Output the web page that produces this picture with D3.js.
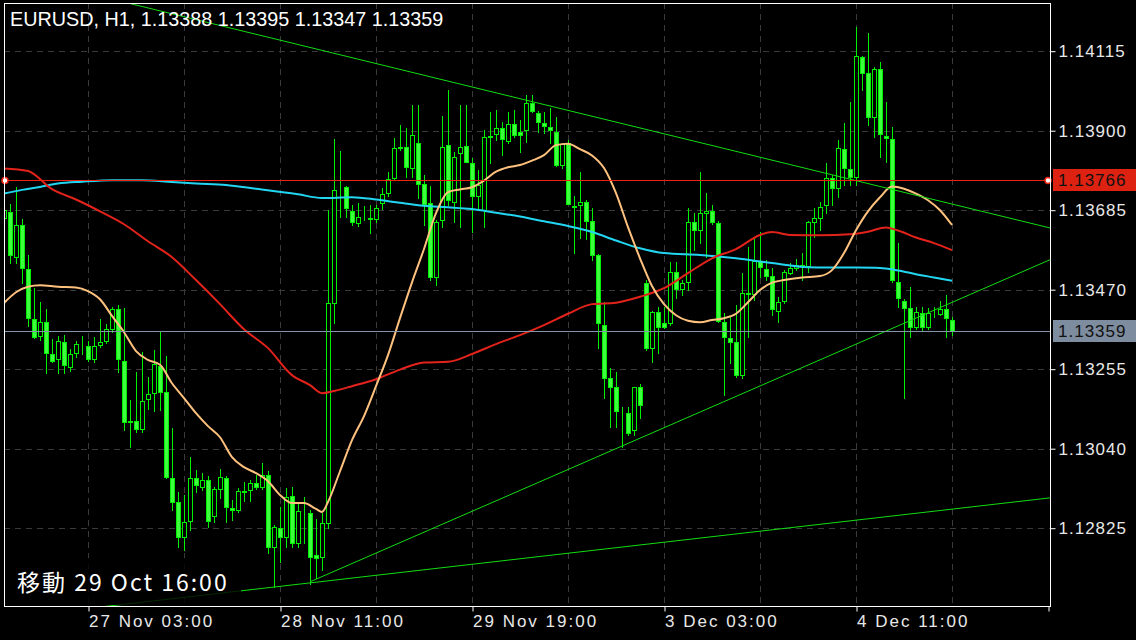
<!DOCTYPE html>
<html><head><meta charset="utf-8">
<script src="https://cdn.jsdelivr.net/npm/d3@7"></script>
<style>body{margin:0;background:#000;}svg{display:block}</style>
</head><body><svg id="c" width="1136" height="640"></svg>
<script>
const symbol = "EURUSD", period = "H1";
const opens = [1.13663,1.13680,1.13558,1.13645,1.13526,1.13390,1.13345,1.13382,1.13296,1.13282,1.13328,1.13261,1.13299,1.13323,1.13317,1.13282,1.13320,1.13331,1.13363,1.13417,1.13277,1.13112,1.13115,1.13093,1.13174,1.13190,1.13263,1.13193,1.12961,1.12896,1.12801,1.12844,1.12961,1.12936,1.12955,1.12858,1.12931,1.12961,1.12879,1.12874,1.12925,1.12928,1.12947,1.12936,1.12969,1.12774,1.12825,1.12801,1.12912,1.12785,1.12869,1.12866,1.12752,1.12747,1.12839,1.13434,1.13742,1.13747,1.13682,1.13650,1.13672,1.13663,1.13661,1.13704,1.13731,1.13772,1.13855,1.13855,1.13799,1.13866,1.13756,1.13704,1.13504,1.13658,1.13861,1.13707,1.13839,1.13858,1.13812,1.13723,1.13685,1.13885,1.13891,1.13907,1.13872,1.13918,1.13896,1.13902,1.13975,1.13947,1.13920,1.13910,1.13896,1.13807,1.13866,1.13696,1.13699,1.13707,1.13655,1.13564,1.13374,1.13231,1.13207,1.13139,1.13136,1.13090,1.13207,1.13488,1.13312,1.13409,1.13380,1.13380,1.13518,1.13472,1.13490,1.13653,1.13631,1.13677,1.13682,1.13650,1.13382,1.13339,1.13328,1.13239,1.13458,1.13458,1.13547,1.13526,1.13507,1.13412,1.13439,1.13515,1.13528,1.13536,1.13534,1.13653,1.13663,1.13699,1.13772,1.13745,1.13850,1.13796,1.13774,1.14099,1.14056,1.13937,1.14066,1.13885,1.13877,1.13490,1.13439,1.13420,1.13369,1.13407,1.13369,1.13407,1.13404,1.13417,1.13388];
const highs = [1.13726,1.13701,1.13747,1.13661,1.13564,1.13474,1.13436,1.13417,1.13336,1.13345,1.13347,1.13309,1.13331,1.13345,1.13331,1.13342,1.13390,1.13377,1.13423,1.13428,1.13420,1.13171,1.13247,1.13301,1.13234,1.13307,1.13355,1.13290,1.13096,1.12923,1.12915,1.13017,1.12982,1.12974,1.12966,1.12936,1.12985,1.12966,1.12901,1.12933,1.12950,1.12955,1.12969,1.13001,1.12979,1.12833,1.12882,1.12933,1.12936,1.12893,1.12909,1.12874,1.12850,1.12866,1.13685,1.13877,1.13845,1.13750,1.13699,1.13704,1.13696,1.13699,1.13699,1.13745,1.13788,1.13880,1.13915,1.13907,1.13969,1.13969,1.13780,1.13750,1.13658,1.13939,1.14010,1.13842,1.13969,1.13969,1.13826,1.13793,1.13902,1.13950,1.13956,1.13923,1.13950,1.13956,1.13929,1.13996,1.13996,1.13953,1.13950,1.13961,1.13937,1.13866,1.13874,1.13723,1.13788,1.13712,1.13691,1.13566,1.13436,1.13258,1.13247,1.13152,1.13152,1.13207,1.13215,1.13496,1.13412,1.13423,1.13423,1.13545,1.13545,1.13496,1.13691,1.13677,1.13788,1.13731,1.13699,1.13655,1.13407,1.13396,1.13428,1.13515,1.13585,1.13612,1.13626,1.13550,1.13528,1.13450,1.13523,1.13542,1.13553,1.13569,1.13655,1.13691,1.13707,1.13812,1.13780,1.13874,1.13920,1.13977,1.14180,1.14102,1.14164,1.14072,1.14085,1.13977,1.13910,1.13596,1.13444,1.13477,1.13423,1.13423,1.13420,1.13423,1.13439,1.13455,1.13395];
const lows = [1.13645,1.13542,1.13542,1.13488,1.13372,1.13339,1.13334,1.13244,1.13274,1.13244,1.13244,1.13250,1.13288,1.13296,1.13277,1.13274,1.13315,1.13325,1.13355,1.13247,1.13090,1.13044,1.13085,1.13085,1.13147,1.13142,1.13144,1.12961,1.12874,1.12774,1.12766,1.12820,1.12923,1.12928,1.12828,1.12842,1.12906,1.12842,1.12847,1.12869,1.12898,1.12898,1.12931,1.12931,1.12758,1.12666,1.12733,1.12774,1.12774,1.12774,1.12785,1.12674,1.12690,1.12712,1.12825,1.13380,1.13666,1.13666,1.13645,1.13642,1.13658,1.13623,1.13653,1.13688,1.13723,1.13766,1.13847,1.13774,1.13774,1.13718,1.13645,1.13496,1.13482,1.13639,1.13699,1.13653,1.13639,1.13815,1.13626,1.13685,1.13639,1.13812,1.13874,1.13834,1.13866,1.13883,1.13842,1.13869,1.13950,1.13896,1.13893,1.13866,1.13804,1.13799,1.13701,1.13569,1.13609,1.13607,1.13550,1.13312,1.13177,1.13098,1.13098,1.13044,1.13077,1.13077,1.13123,1.13307,1.13274,1.13299,1.13366,1.13374,1.13447,1.13455,1.13469,1.13577,1.13596,1.13558,1.13647,1.13382,1.13185,1.13271,1.13234,1.13231,1.13342,1.13442,1.13504,1.13496,1.13401,1.13382,1.13434,1.13512,1.13523,1.13496,1.13518,1.13612,1.13631,1.13677,1.13699,1.13720,1.13753,1.13753,1.13753,1.14010,1.13915,1.13883,1.13829,1.13815,1.13490,1.13423,1.13177,1.13342,1.13363,1.13361,1.13363,1.13396,1.13401,1.13342,1.13347];
const closes = [1.13685,1.13564,1.13645,1.13528,1.13393,1.13342,1.13382,1.13299,1.13277,1.13331,1.13266,1.13296,1.13323,1.13322,1.13282,1.13317,1.13328,1.13363,1.13417,1.13282,1.13112,1.13115,1.13093,1.13169,1.13188,1.13269,1.13193,1.12963,1.12896,1.12801,1.12842,1.12961,1.12942,1.12955,1.12844,1.12931,1.12963,1.12882,1.12874,1.12925,1.12924,1.12947,1.12936,1.12969,1.12774,1.12828,1.12801,1.12909,1.12785,1.12871,1.12868,1.12747,1.12744,1.12839,1.13434,1.13739,1.13741,1.13691,1.13653,1.13666,1.13671,1.13662,1.13691,1.13728,1.13769,1.13853,1.13852,1.13801,1.13888,1.13756,1.13701,1.13504,1.13653,1.13855,1.13712,1.13829,1.13855,1.13815,1.13723,1.13753,1.13883,1.13884,1.13907,1.13877,1.13918,1.13888,1.13888,1.13975,1.13953,1.13923,1.13912,1.13902,1.13807,1.13864,1.13701,1.13695,1.13707,1.13655,1.13564,1.13380,1.13231,1.13207,1.13142,1.13138,1.13082,1.13207,1.13158,1.13312,1.13409,1.13369,1.13369,1.13518,1.13472,1.13488,1.13653,1.13631,1.13677,1.13682,1.13653,1.13385,1.13342,1.13328,1.13239,1.13461,1.13460,1.13547,1.13531,1.13507,1.13417,1.13436,1.13518,1.13528,1.13536,1.13534,1.13653,1.13663,1.13693,1.13772,1.13745,1.13853,1.13799,1.13774,1.14102,1.14056,1.13937,1.14066,1.13891,1.13880,1.13496,1.13447,1.13420,1.13369,1.13409,1.13369,1.13407,1.13406,1.13417,1.13393,1.13359];

const fastMaBars = [0,2,4,6,9,12,14,16,18,20,22,24,26,28,30,32,34,36,38,40,42,44,46,48,50,52,53,54,56,58,60,62,64,66,68,70,72,74,76,78,80,82,84,86,88,90,92,94,96,98,100,102,104,106,108,110,112,114,116,118,120,122,124,126,128,130,133,136,138,140,142,144,146,148,150,152,154,156,158];
const fastMa = [1.13434,1.13463,1.13478,1.13482,1.13478,1.13476,1.13466,1.13444,1.13399,1.13355,1.13304,1.13280,1.13267,1.13217,1.13177,1.13136,1.13101,1.13071,1.13017,1.12990,1.12974,1.12952,1.12915,1.12893,1.12893,1.12877,1.12869,1.12896,1.12979,1.13063,1.13128,1.13209,1.13293,1.13393,1.13490,1.13580,1.13677,1.13734,1.13741,1.13747,1.13765,1.13789,1.13801,1.13807,1.13819,1.13834,1.13861,1.13865,1.13850,1.13833,1.13799,1.13731,1.13639,1.13555,1.13480,1.13431,1.13401,1.13386,1.13382,1.13388,1.13393,1.13405,1.13436,1.13469,1.13489,1.13496,1.13503,1.13507,1.13523,1.13569,1.13631,1.13682,1.13720,1.13749,1.13743,1.13730,1.13712,1.13685,1.13645];
const midMaBars = [0,4,8,12,16,20,24,28,32,36,40,44,48,51,53,55,58,62,66,70,74,78,82,86,90,94,98,102,106,110,114,118,122,126,128,131,136,141,144,147,149,152,155,158];
const midMa = [1.13798,1.13791,1.13742,1.13714,1.13682,1.13647,1.13601,1.13558,1.13496,1.13431,1.13363,1.13312,1.13239,1.13212,1.13190,1.13196,1.13209,1.13228,1.13254,1.13273,1.13275,1.13296,1.13323,1.13347,1.13374,1.13405,1.13431,1.13435,1.13451,1.13474,1.13515,1.13555,1.13580,1.13618,1.13626,1.13618,1.13617,1.13620,1.13627,1.13638,1.13630,1.13611,1.13596,1.13577];
const slowMaBars = [0,3,6,9,13,18,23,28,32,37,42,49,53,58,62,66,70,74,78,82,86,90,94,98,102,106,110,116,122,128,134,140,146,149,152,155,158];
const slowMa = [1.13730,1.13740,1.13748,1.13757,1.13762,1.13766,1.13766,1.13761,1.13757,1.13753,1.13743,1.13728,1.13718,1.13720,1.13714,1.13705,1.13697,1.13693,1.13688,1.13678,1.13668,1.13655,1.13642,1.13626,1.13603,1.13582,1.13569,1.13564,1.13555,1.13542,1.13531,1.13530,1.13529,1.13522,1.13512,1.13503,1.13494];

const trendTop = [[0, 1.14327], [174.33, 1.13637]];
const trendMid = [[51, 1.12680], [174.33, 1.13551]];
const trendLow = [[0, 1.12582], [174.33, 1.12907]];
const alertPrice = 1.13766;
const bidPrice = 1.13359;

const yTicks = [1.12825, 1.13040, 1.13255, 1.13470, 1.13685, 1.13900, 1.14115];
const xTickBars = [14, 46, 78, 110, 142, 174];
const xTickLabels = ["27 Nov 03:00", "28 Nov 11:00", "29 Nov 19:00", "3 Dec 03:00", "4 Dec 11:00", ""];
const gridBars = [14, 30, 46, 62, 78, 94, 110, 126, 142, 158];
const noteText = "移動 29 Oct 16:00";

const W = 1136, H = 640;
const P = {left: 4, right: 1051, top: 3, bottom: 607};
const x = d3.scaleLinear().domain([0, 158]).range([4, 952]);
const y = d3.scaleLinear().domain([1.12825, 1.14115]).range([528.2, 51.2]);

const svg = d3.select("#c");
svg.append("rect").attr("width", W).attr("height", H).attr("fill", "#000");
svg.append("defs").append("clipPath").attr("id", "clip")
  .append("rect").attr("x", P.left + 0.5).attr("y", P.top + 0.5)
  .attr("width", P.right - P.left - 1).attr("height", P.bottom - P.top - 1);

const grid = svg.append("g").attr("stroke", "#3a3a3a").attr("stroke-dasharray", "6,5").attr("stroke-width", 1);
grid.selectAll("line.h").data(yTicks).join("line").attr("class", "h")
  .attr("x1", P.left).attr("x2", P.right)
  .attr("y1", d => Math.round(y(d)) + 0.5).attr("y2", d => Math.round(y(d)) + 0.5);
grid.selectAll("line.v").data(gridBars).join("line").attr("class", "v")
  .attr("x1", d => x(d) + 0.5).attr("x2", d => x(d) + 0.5)
  .attr("y1", P.top).attr("y2", P.bottom);

const plot = svg.append("g").attr("clip-path", "url(#clip)");

// candles
const bars = opens.map((o, i) => ({i, o, h: highs[i], l: lows[i], c: closes[i]}));
const cg = plot.append("g");
cg.selectAll("line.wick").data(bars).join("line").attr("class", "wick")
  .attr("x1", d => Math.round(x(d.i)) + 0.5).attr("x2", d => Math.round(x(d.i)) + 0.5)
  .attr("y1", d => Math.round(y(d.h))).attr("y2", d => Math.round(y(d.l)) + 1)
  .attr("stroke", "#00ee00").attr("stroke-width", 1);
cg.selectAll("rect.body").data(bars).join("rect").attr("class", "body")
  .attr("x", d => Math.round(x(d.i)) - 2 + 0.5)
  .attr("y", d => Math.round(y(Math.max(d.o, d.c))) + 0.5)
  .attr("width", 4)
  .attr("height", d => Math.max(0, Math.round(y(Math.min(d.o, d.c))) - Math.round(y(Math.max(d.o, d.c)))))
  .attr("fill", d => d.c < d.o ? "#3dff3d" : "#000")
  .attr("stroke", "#00ee00").attr("stroke-width", 1);

// moving averages
const line = d3.line().x(d => x(d[0])).y(d => y(d[1])).curve(d3.curveMonotoneX);
const ma = (bs, vs, color) => plot.append("path")
  .attr("d", line(bs.map((b, k) => [b, vs[k]])))
  .attr("fill", "none").attr("stroke", color).attr("stroke-width", 2);
ma(slowMaBars, slowMa, "#22d6f2");
ma(midMaBars, midMa, "#e3231b");
ma(fastMaBars, fastMa, "#ffc27e");

// trend lines
const tl = d3.line().x(d => x(d[0])).y(d => y(d[1]));
[trendTop, trendMid, trendLow].forEach(t => plot.append("path").attr("d", tl(t))
  .attr("fill", "none").attr("stroke", "#11dd11").attr("stroke-width", 1));

// horizontal lines
plot.append("line").attr("x1", P.left).attr("x2", P.right)
  .attr("y1", Math.round(y(bidPrice)) + 0.5).attr("y2", Math.round(y(bidPrice)) + 0.5)
  .attr("stroke", "#8494a8").attr("stroke-width", 1);
plot.append("line").attr("x1", P.left).attr("x2", P.right)
  .attr("y1", Math.round(y(alertPrice)) + 0.5).attr("y2", Math.round(y(alertPrice)) + 0.5)
  .attr("stroke", "#ee2211").attr("stroke-width", 1.2);
[P.left + 1, P.right - 3].forEach(cx => svg.append("circle").attr("cx", cx).attr("cy", Math.round(y(alertPrice)) + 0.5)
  .attr("r", 3).attr("fill", "#fff").attr("stroke", "#ee2211").attr("stroke-width", 1.5));

// note box
svg.append("rect").attr("x", P.left + 1).attr("y", 558).attr("width", 236).attr("height", 47)
  .attr("fill", "#000").attr("fill-opacity", 0.82);
svg.append("text").attr("x", 17).attr("y", 591)
  .attr("font-family", "'Noto Sans CJK JP', 'Noto Sans', sans-serif").attr("font-size", 23)
  .attr("letter-spacing", "2px").attr("fill", "#fff").text(noteText);

// title
svg.append("text").attr("x", 10).attr("y", 26)
  .attr("font-family", "'Liberation Sans', Arial, sans-serif").attr("font-size", 19.8).attr("fill", "#fff")
  .text(`${symbol}, ${period}, ${opens[158].toFixed(5)} ${highs[158].toFixed(5)} ${lows[158].toFixed(5)} ${closes[158].toFixed(5)}`);

// border
svg.append("rect").attr("x", P.left + 0.5).attr("y", P.top + 0.5)
  .attr("width", P.right - P.left - 1).attr("height", P.bottom - P.top - 1)
  .attr("fill", "none").attr("stroke", "#fff").attr("stroke-width", 1);

// y axis
const yAxis = svg.append("g").attr("transform", `translate(${P.right - 0.5},0)`)
  .call(d3.axisRight(y).tickValues(yTicks).tickFormat(d3.format(".5f")).tickSize(5).tickPadding(3));
yAxis.select(".domain").remove();
yAxis.selectAll(".tick line").attr("stroke", "#fff");
yAxis.selectAll(".tick text").attr("fill", "#e8e8e8").attr("font-size", 17)
  .attr("font-family", "'Liberation Sans', Arial, sans-serif").attr("letter-spacing", "1px");

// price tags
const tag = (price, bg) => {
  const yy = Math.round(y(price));
  svg.append("rect").attr("x", P.right + 2).attr("y", yy - 11).attr("width", W - P.right - 2).attr("height", 22).attr("fill", bg);
  svg.append("text").attr("x", P.right + 7).attr("y", yy).attr("dy", "0.35em")
    .attr("font-family", "'Liberation Sans', Arial, sans-serif").attr("font-size", 17)
    .attr("letter-spacing", "1px").attr("fill", "#111").text(price.toFixed(5));
};
tag(alertPrice, "#dd2211");
tag(bidPrice, "#7d8c9e");

// x axis
const xAxis = svg.append("g").attr("transform", `translate(0.5,${P.bottom - 0.5})`)
  .call(d3.axisBottom(x).tickValues(xTickBars).tickFormat((d, i) => xTickLabels[i]).tickSize(5).tickPadding(3));
xAxis.select(".domain").remove();
xAxis.selectAll(".tick line").attr("stroke", "#fff");
xAxis.selectAll(".tick text").attr("fill", "#e8e8e8").attr("font-size", 17).attr("text-anchor", "start")
  .attr("font-family", "'Liberation Sans', Arial, sans-serif").attr("letter-spacing", "2px");
</script></body></html>
